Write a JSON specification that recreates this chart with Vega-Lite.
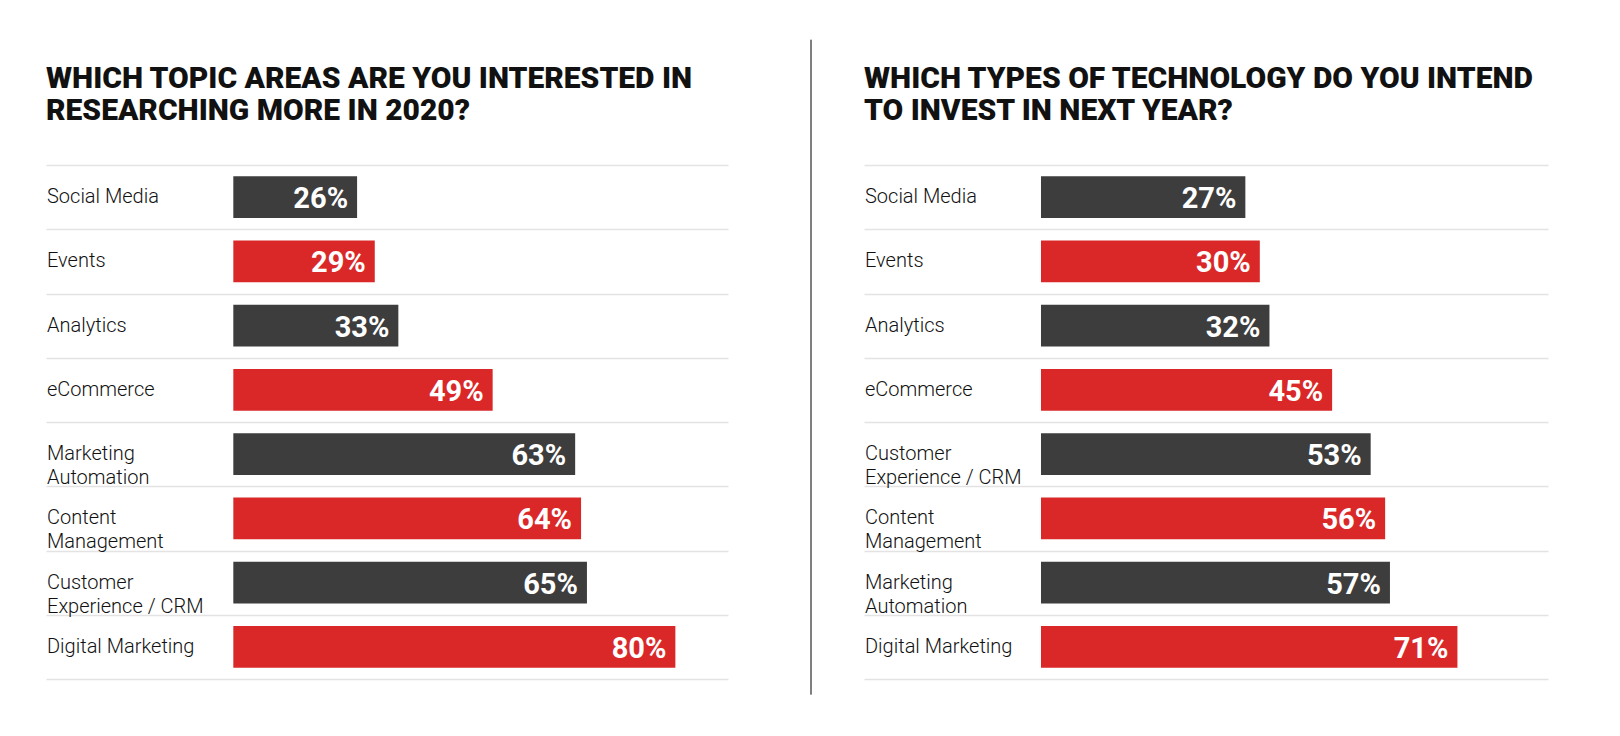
{
  "$schema": "https://vega.github.io/schema/vega-lite/v6.json",
  "background": "white",
  "padding": {"left": 46, "top": 39, "right": 10, "bottom": 10},
  "config": {
    "view": {"stroke": null},
    "font": "Roboto",
    "title": {"font": "Roboto", "fontSize": 30, "fontWeight": 900, "color": "#111111", "anchor": "start", "lineHeight": 31.7, "offset": 39, "frame": "group"}
  },
  "datasets": {
    "topics": [
      {"rank": 1, "category": "Social Media", "share": 0.26},
      {"rank": 2, "category": "Events", "share": 0.29},
      {"rank": 3, "category": "Analytics", "share": 0.33},
      {"rank": 4, "category": "eCommerce", "share": 0.49},
      {"rank": 5, "category": "Marketing\nAutomation", "share": 0.63},
      {"rank": 6, "category": "Content\nManagement", "share": 0.64},
      {"rank": 7, "category": "Customer\nExperience / CRM", "share": 0.65},
      {"rank": 8, "category": "Digital Marketing", "share": 0.80}
    ],
    "tech": [
      {"rank": 1, "category": "Social Media", "share": 0.27},
      {"rank": 2, "category": "Events", "share": 0.30},
      {"rank": 3, "category": "Analytics", "share": 0.32},
      {"rank": 4, "category": "eCommerce", "share": 0.45},
      {"rank": 5, "category": "Customer\nExperience / CRM", "share": 0.53},
      {"rank": 6, "category": "Content\nManagement", "share": 0.56},
      {"rank": 7, "category": "Marketing\nAutomation", "share": 0.57},
      {"rank": 8, "category": "Digital Marketing", "share": 0.71}
    ]
  },
  "resolve": {"scale": {"x": "independent", "y": "independent"}},
  "spacing": 52,
  "hconcat": [
    {
      "spacing": 82,
      "resolve": {"scale": {"x": "independent", "y": "independent"}},
      "hconcat": [
        {
          "title": {"text": ["WHICH TOPIC AREAS ARE YOU INTERESTED IN", "RESEARCHING MORE IN 2020?"]},
          "width": 682,
          "height": 514,
          "data": {"name": "topics"},
          "encoding": {
            "y": {"field": "rank", "type": "ordinal", "scale": {"paddingInner": 0, "paddingOuter": 0},
              "axis": {"title": null, "labels": false, "ticks": false, "domain": false, "grid": true, "tickBand": "extent", "gridColor": "#e3e3e3", "gridWidth": 1.5}}
          },
          "layer": [
            {
              "mark": {"type": "bar", "height": {"band": 0.65}},
              "encoding": {
                "x": {"field": "share", "type": "quantitative", "scale": {"domain": [-0.2678, 0.8893], "nice": false, "zero": false}, "axis": null},
                "x2": {"datum": 0.05},
                "color": {"condition": {"test": "datum.rank % 2 === 0", "value": "#da2829"}, "value": "#3d3d3d"}
              }
            },
            {
              "mark": {"type": "text", "align": "right", "baseline": "middle", "dx": -9, "dy": 2, "font": "Roboto", "fontWeight": "bold", "fontSize": 29, "color": "#ffffff"},
              "encoding": {
                "x": {"field": "share", "type": "quantitative"},
                "text": {"field": "share", "format": ".0%"}
              }
            },
            {
              "mark": {"type": "text", "align": "left", "baseline": "middle", "dx": 1, "font": "Roboto", "fontWeight": 300, "fontSize": 20, "color": "#111111", "lineBreak": "\n", "lineHeight": 24},
              "encoding": {
                "x": {"datum": -0.2678},
                "text": {"field": "category"}
              }
            }
          ]
        },
        {
          "width": 1,
          "height": 514,
          "data": {"values": [{"divider": 1}]},
          "mark": {"type": "rule", "color": "#000000", "strokeWidth": 1},
          "encoding": {
            "x": {"datum": 0, "type": "quantitative", "scale": {"domain": [0, 1], "nice": false, "zero": false}, "axis": null},
            "y": {"datum": 1.2438, "type": "quantitative", "scale": {"domain": [0, 1], "nice": false, "zero": false}, "axis": null},
            "y2": {"datum": -0.0305}
          }
        }
      ]
    },
    {
      "title": {"text": ["WHICH TYPES OF TECHNOLOGY DO YOU INTEND", "TO INVEST IN NEXT YEAR?"]},
      "width": 684,
      "height": 514,
      "data": {"name": "tech"},
      "encoding": {
        "y": {"field": "rank", "type": "ordinal", "scale": {"paddingInner": 0, "paddingOuter": 0},
          "axis": {"title": null, "labels": false, "ticks": false, "domain": false, "grid": true, "tickBand": "extent", "gridColor": "#e3e3e3", "gridWidth": 1.5}}
      },
      "layer": [
        {
          "mark": {"type": "bar", "height": {"band": 0.65}},
          "encoding": {
            "x": {"field": "share", "type": "quantitative", "scale": {"domain": [-0.5212, 0.8979], "nice": false, "zero": false}, "axis": null},
            "x2": {"datum": -0.154},
            "color": {"condition": {"test": "datum.rank % 2 === 0", "value": "#da2829"}, "value": "#3d3d3d"}
          }
        },
        {
          "mark": {"type": "text", "align": "right", "baseline": "middle", "dx": -9, "dy": 2, "font": "Roboto", "fontWeight": "bold", "fontSize": 29, "color": "#ffffff"},
          "encoding": {
            "x": {"field": "share", "type": "quantitative"},
            "text": {"field": "share", "format": ".0%"}
          }
        },
        {
          "mark": {"type": "text", "align": "left", "baseline": "middle", "dx": 1, "font": "Roboto", "fontWeight": 300, "fontSize": 20, "color": "#111111", "lineBreak": "\n", "lineHeight": 24},
          "encoding": {
            "x": {"datum": -0.5212},
            "text": {"field": "category"}
          }
        }
      ]
    }
  ]
}
